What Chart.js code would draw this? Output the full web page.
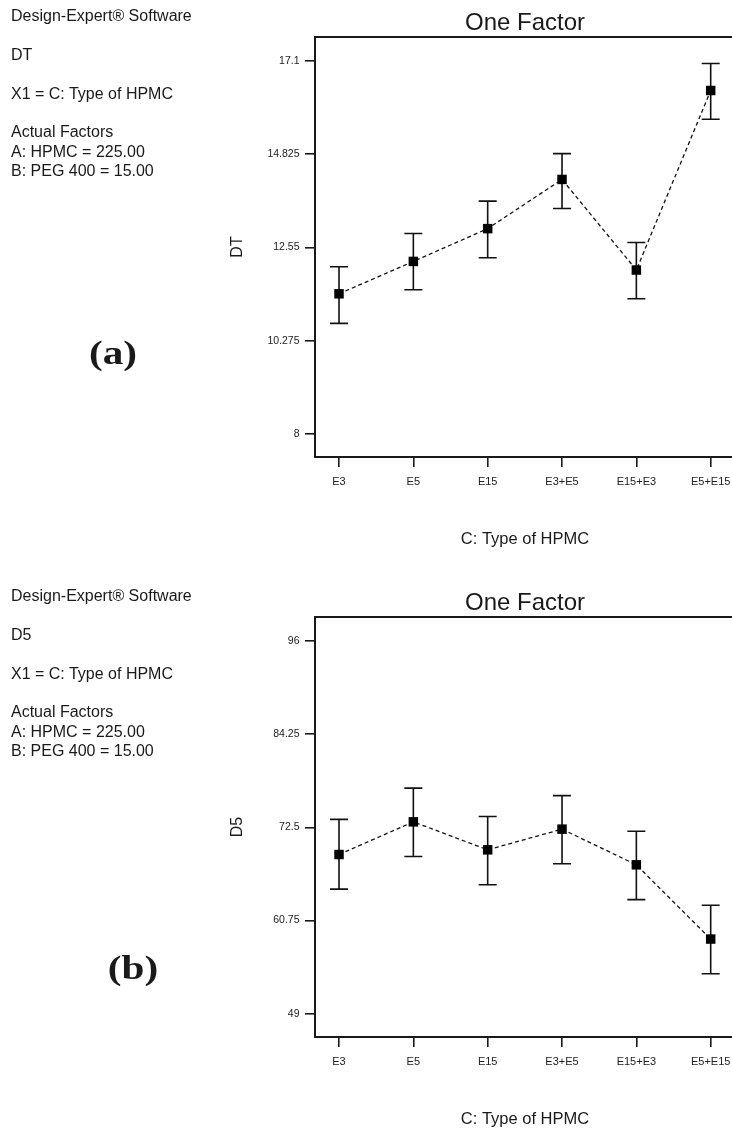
<!DOCTYPE html>
<html>
<head>
<meta charset="utf-8">
<script src="https://cdn.jsdelivr.net/npm/chart.js@4.4.1/dist/chart.umd.min.js"></script>
<style>
  html, body { margin: 0; padding: 0; background: #fff; overflow: hidden; }
  body { width: 732px; height: 1128px; position: relative; font-family: Arial, "Liberation Sans", sans-serif; color: #1a1a1a; }
  .panel { position: absolute; left: 0; width: 732px; height: 548px; overflow: hidden; }
  .panel canvas { position: absolute; left: 0; top: 0; }
  .info { position: absolute; left: 11px; font-size: 16px; line-height: 20px; white-space: nowrap; }
  .tag { position: absolute; font-family: "Liberation Serif", "Times New Roman", serif; font-weight: bold; font-size: 33px; line-height: 1; transform: translate(-50%, -50%) scaleX(1.25); }
</style>
</head>
<body>

<div class="panel" style="top:0">
  <canvas id="chartDT" width="745" height="548"></canvas>
  <div class="info" style="top:6px">Design-Expert® Software</div>
  <div class="info" style="top:45px">DT</div>
  <div class="info" style="top:84px">X1 = C: Type of HPMC</div>
  <div class="info" style="top:122px">Actual Factors</div>
  <div class="info" style="top:142px">A: HPMC = 225.00</div>
  <div class="info" style="top:161px">B: PEG 400 = 15.00</div>
  <div class="tag" style="left:113px; top:353px">(a)</div>
</div>

<div class="panel" style="top:580px">
  <canvas id="chartD5" width="745" height="548"></canvas>
  <div class="info" style="top:6px">Design-Expert® Software</div>
  <div class="info" style="top:45px">D5</div>
  <div class="info" style="top:84px">X1 = C: Type of HPMC</div>
  <div class="info" style="top:122px">Actual Factors</div>
  <div class="info" style="top:142px">A: HPMC = 225.00</div>
  <div class="info" style="top:161px">B: PEG 400 = 15.00</div>
  <div class="tag" style="left:133px; top:388px">(b)</div>
</div>

<script>
// values
var categories = ['E3', 'E5', 'E15', 'E3+E5', 'E15+E3', 'E5+E15'];

var dtMean = [11.42, 12.21, 13.01, 14.21, 12.00, 16.38];
var dtLow  = [10.70, 11.52, 12.30, 13.50, 11.30, 15.68];
var dtHigh = [12.08, 12.89, 13.68, 14.84, 12.67, 17.04];
var dtTicks = [8, 10.275, 12.55, 14.825, 17.1];

var d5Mean = [69.07, 73.19, 69.66, 72.27, 67.77, 58.41];
var d5Low  = [64.71, 68.82, 65.25, 67.90, 63.38, 54.04];
var d5High = [73.50, 77.44, 73.86, 76.50, 72.00, 62.68];
var d5Ticks = [49, 60.75, 72.5, 84.25, 96];

Chart.defaults.font.family = 'Arial, "Liberation Sans", sans-serif';
Chart.defaults.color = '#1a1a1a';

var axisColor = '#1a1a1a';

// vertical error bars with caps, drawn through the chart's scales
var errorBars = {
    id: 'errorBars',
    beforeDatasetsDraw: function (chart, args, opts) {
        var ctx = chart.ctx;
        var xs = chart.scales.x, ys = chart.scales.y;
        ctx.save();
        ctx.strokeStyle = '#111';
        ctx.lineWidth = 1.6;
        opts.low.forEach(function (lo, i) {
            var px = xs.getPixelForValue(i);
            var yLo = ys.getPixelForValue(lo);
            var yHi = ys.getPixelForValue(opts.high[i]);
            ctx.beginPath();
            ctx.moveTo(px, yLo); ctx.lineTo(px, yHi);
            ctx.moveTo(px - 9, yLo); ctx.lineTo(px + 9, yLo);
            ctx.moveTo(px - 9, yHi); ctx.lineTo(px + 9, yHi);
            ctx.stroke();
        });
        ctx.restore();
    }
};

function makeChart(id, yName, mean, low, high, ticks, yMin, yMax) {
    var points = mean.map(function (v, i) { return {x: i, y: v}; });
    return new Chart(document.getElementById(id), {
        type: 'line',
        data: {
            datasets: [{
                data: points,
                borderColor: '#111',
                borderWidth: 1.3,
                borderDash: [4, 3],
                pointStyle: 'rect',
                pointRadius: 6.7,
                pointBackgroundColor: '#000',
                pointBorderColor: '#000',
                pointBorderWidth: 0,
                tension: 0
            }]
        },
        options: {
            responsive: false,
            animation: false,
            layout: {padding: {left: 0, right: 10, top: 0, bottom: 0}},
            plugins: {
                legend: {display: false},
                tooltip: {enabled: false},
                errorBars: {low: low, high: high}
            },
            scales: {
                x: {
                    type: 'linear',
                    position: 'bottom',
                    min: -0.323,
                    max: 5.327,
                    afterBuildTicks: function (s) {
                        s.ticks = categories.map(function (c, i) { return {value: i}; });
                    },
                    afterFit: function (s) { s.height = 91; },
                    ticks: {
                        autoSkip: false,
                        maxRotation: 0,
                        padding: 8,
                        font: {size: 11},
                        color: '#222',
                        callback: function (v) { return categories[Math.round(v)]; }
                    },
                    grid: {drawOnChartArea: false, tickLength: 10, color: axisColor, lineWidth: 1.6},
                    border: {display: true, color: axisColor, width: 2},
                    title: {display: true, text: 'C: Type of HPMC', font: {size: 16.5, lineHeight: 1}, padding: 0, color: '#1a1a1a'}
                },
                x2: {
                    type: 'linear',
                    position: 'top',
                    display: true,
                    min: 0, max: 1,
                    afterFit: function (s) { s.height = 37; },
                    ticks: {display: false},
                    grid: {display: true, drawOnChartArea: false, drawTicks: false, color: axisColor},
                    border: {display: true, color: axisColor, width: 2},
                    title: {display: true, text: 'One Factor', font: {size: 24, lineHeight: 1.2}, padding: {top: 8.6, bottom: 0}, color: '#1a1a1a'}
                },
                y: {
                    type: 'linear',
                    position: 'left',
                    min: yMin,
                    max: yMax,
                    afterBuildTicks: function (s) {
                        s.ticks = ticks.map(function (t) { return {value: t}; });
                    },
                    afterFit: function (s) { s.width = 315; },
                    ticks: {
                        padding: 5.5,
                        font: {size: 10.5},
                        color: '#222',
                        callback: function (v) { return String(v); }
                    },
                    grid: {drawOnChartArea: false, tickLength: 10, color: axisColor, lineWidth: 1.6},
                    border: {display: true, color: axisColor, width: 2},
                    title: {display: true, text: yName, font: {size: 16, lineHeight: 1.2}, padding: {top: 228.4, bottom: 0}, color: '#1a1a1a'}
                }
            }
        },
        plugins: [errorBars]
    });
}

makeChart('chartDT', 'DT', dtMean, dtLow, dtHigh, dtTicks, 7.439, 17.685);
makeChart('chartD5', 'D5', d5Mean, d5Low, d5High, d5Ticks, 46.06, 99.02);
</script>
</body>
</html>
